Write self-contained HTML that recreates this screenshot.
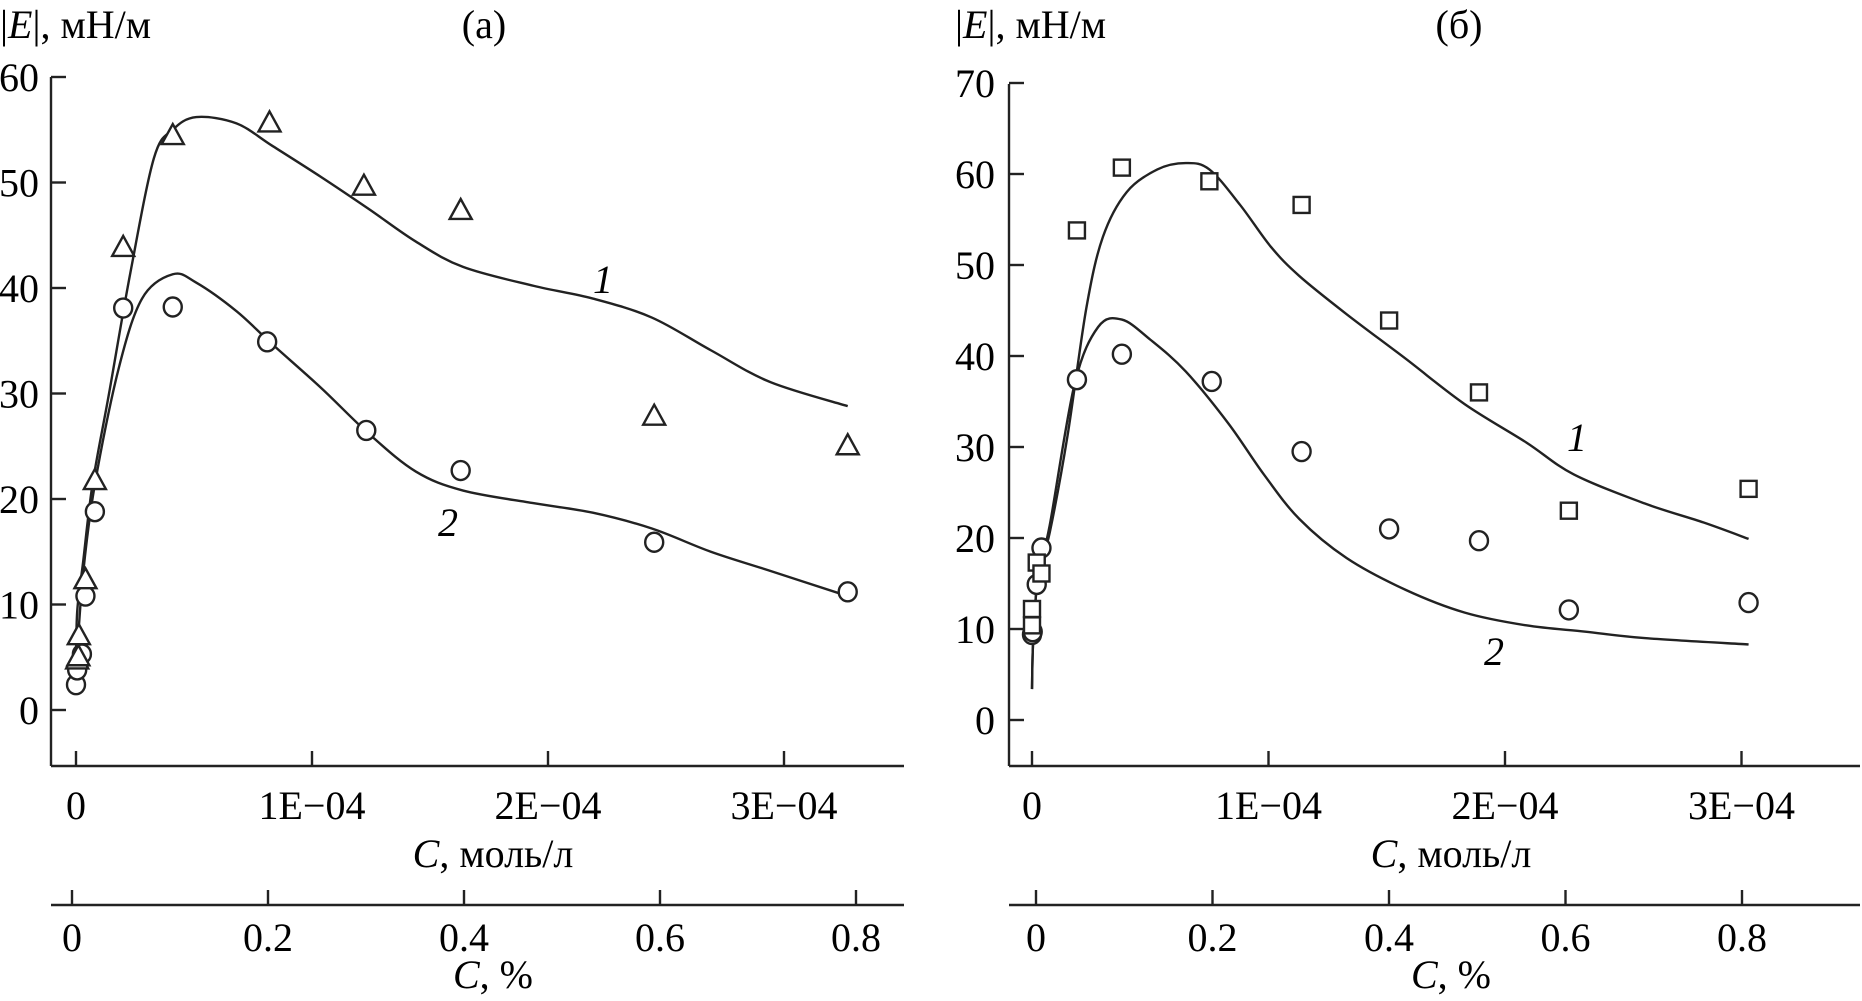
<!DOCTYPE html>
<html><head><meta charset="utf-8"><style>
body{margin:0;background:#fff;}
svg{display:block;font-family:"Liberation Serif",serif;}
</style></head><body>
<svg id="s" width="1862" height="1001" xmlns="http://www.w3.org/2000/svg"></svg>
<script>
// Panel (a) data, x in units of 1E-4 mol/L
const aTriX=[0.005,0.01,0.012,0.04,0.08,0.2,0.41,0.82,1.22,1.63,2.45,3.27];
const aTriY=[4.7,5.0,7.0,12.3,21.7,43.8,54.4,55.6,49.6,47.3,27.8,25.0];
const aCirX=[0,0.005,0.025,0.04,0.08,0.2,0.41,0.81,1.23,1.63,2.45,3.27];
const aCirY=[2.4,3.8,5.3,10.8,18.8,38.1,38.2,34.9,26.5,22.7,15.9,11.2];
const aC1X=[0,0.005,0.03,0.07,0.14,0.23,0.33,0.41,0.51,0.68,0.83,1.04,1.24,1.44,1.64,1.94,2.19,2.44,2.69,2.94,3.27];
const aC1Y=[3.8,9.3,14,21.4,30,41.4,52.3,55,56.2,55.6,53.5,50.5,47.5,44.4,42,40.2,39,37.2,34.1,31.1,28.8];
const aC2X=[0,0.03,0.08,0.18,0.28,0.41,0.51,0.68,0.83,1.04,1.24,1.44,1.64,1.94,2.19,2.44,2.69,2.94,3.27];
const aC2Y=[3.8,12.9,21.4,32.3,39,41.3,40.5,37.8,34.7,30.5,26.2,22.6,20.8,19.6,18.7,17.2,15,13.2,10.8];
// Panel (б) data
const bSqX=[0,0,0.02,0.04,0.19,0.38,0.75,1.14,1.51,1.89,2.27,3.03];
const bSqY=[10.4,12.2,17.3,16.1,53.8,60.7,59.2,56.6,43.9,36,23,25.4];
const bCirX=[0,0.003,0.02,0.04,0.19,0.38,0.76,1.14,1.51,1.89,2.27,3.03];
const bCirY=[9.4,9.7,14.9,18.9,37.4,40.2,37.2,29.5,21,19.7,12.1,12.9];
const bC1X=[0,0.005,0.025,0.075,0.15,0.23,0.3,0.4,0.53,0.65,0.75,0.88,1.01,1.13,1.33,1.58,1.83,2.09,2.29,2.59,2.84,3.03];
const bC1Y=[3.4,8.7,15.7,20.6,31.2,45.3,53.1,58,60.5,61.2,60.5,56.6,52,48.8,44.6,39.7,34.7,30.5,27,23.8,21.7,19.9];
const bC2X=[0,0.005,0.025,0.075,0.18,0.28,0.38,0.5,0.65,0.83,0.98,1.13,1.33,1.58,1.83,2.09,2.34,2.59,3.03];
const bC2Y=[3.4,8.7,15.7,21.4,36.9,43.2,44,41.8,38.3,32.6,27,22.1,17.8,14.3,11.8,10.4,9.7,9,8.3];
const aYTicks=[0,10,20,30,40,50,60];
const bYTicks=[0,10,20,30,40,50,60,70];
const xTicks=[0,1,2,3];
const xTickLabels=["0","1E\u221204","2E\u221204","3E\u221204"];
const pctTicks=[0,0.2,0.4,0.6,0.8];
const pctLabels=["0","0.2","0.4","0.6","0.8"];

const NS="http://www.w3.org/2000/svg";
const svg=document.getElementById('s');
const FS=40;
function mk(tag,attrs,parent,text){const e=document.createElementNS(NS,tag);for(const k in attrs)e.setAttribute(k,attrs[k]);if(text!==undefined)e.textContent=text;(parent||svg).appendChild(e);return e;}
function smooth(pts){let d=`M${pts[0][0]},${pts[0][1]}`;for(let i=0;i<pts.length-1;i++){const p0=pts[i-1]||pts[i],p1=pts[i],p2=pts[i+1],p3=pts[i+2]||p2;const c1=[p1[0]+(p2[0]-p0[0])/6,p1[1]+(p2[1]-p0[1])/6],c2=[p2[0]-(p3[0]-p1[0])/6,p2[1]-(p3[1]-p1[1])/6];d+=` C${c1[0]},${c1[1]} ${c2[0]},${c2[1]} ${p2[0]},${p2[1]}`;}return d;}

function panel(cfg){
  const g=mk('g',{});
  
  
  const X=v=>cfg.x0+v*cfg.xs, Y=v=>cfg.y0-v*cfg.ys, P=v=>cfg.p0+v*cfg.ps;
  const st={stroke:'#222','stroke-width':2.4,fill:'none'};
  let e=mk('line',Object.assign({x1:cfg.ax,y1:cfg.yTop,x2:cfg.ax,y2:cfg.axY},st),g);
  
  e=mk('line',Object.assign({x1:cfg.ax,y1:cfg.axY,x2:cfg.axEnd,y2:cfg.axY},st),g);
  
  e=mk('line',Object.assign({x1:cfg.ax,y1:905,x2:cfg.axEnd,y2:905},st),g);
  
  cfg.yT.forEach(v=>{mk('line',Object.assign({x1:cfg.ax,y1:Y(v),x2:cfg.ax+15,y2:Y(v)},st),g);
    const t=mk('text',{x:cfg.labR,y:Y(v)+14,'text-anchor':'end','font-size':FS},g,String(v));
    });
  xTicks.forEach((v,i)=>{mk('line',Object.assign({x1:X(v),y1:cfg.axY,x2:X(v),y2:cfg.axY-15},st),g);
    const t=mk('text',{x:X(v),y:819,'text-anchor':'middle','font-size':FS},g,xTickLabels[i]);
    });
  pctTicks.forEach((v,i)=>{mk('line',Object.assign({x1:P(v),y1:905,x2:P(v),y2:890},st),g);
    const t=mk('text',{x:P(v),y:951,'text-anchor':'middle','font-size':FS},g,pctLabels[i]);
    });
  let t=mk('text',{x:cfg.xlab,y:867,'text-anchor':'middle','font-size':FS},g);
  mk('tspan',{'font-style':'italic'},t,'C');mk('tspan',{},t,', моль/л');
  
  t=mk('text',{x:cfg.xlab,y:988,'text-anchor':'middle','font-size':FS},g);
  mk('tspan',{'font-style':'italic'},t,'C');mk('tspan',{},t,', %');
  
  t=mk('text',{x:cfg.ylabX,y:38,'font-size':FS},g);
  mk('tspan',{},t,'|');mk('tspan',{'font-style':'italic'},t,'E');mk('tspan',{},t,'|, мН/м');
  
  t=mk('text',{x:cfg.titleX,y:38,'text-anchor':'middle','font-size':FS},g,cfg.title);
  
  cfg.curves.forEach((c,k)=>{const p=mk('path',Object.assign({d:smooth(c[0].map((v,i)=>[X(v),Y(c[1][i])]))},st),g);
    });
  cfg.curveLabels.forEach((l,k)=>{const tt=mk('text',{x:l[0],y:l[1],'font-size':FS,'font-style':'italic','text-anchor':'middle'},g,String(k+1));
    });
  cfg.marks.forEach(m=>{m.x.forEach((v,i)=>{const cx=X(v),cy=Y(m.y[i]);let el;
    if(m.type==='circle')el=mk('ellipse',Object.assign({cx:cx,cy:cy,rx:9,ry:9.5},st,{fill:'#fff'}),g);
    else if(m.type==='tri')el=mk('polygon',Object.assign({points:`${cx},${cy-12} ${cx+11},${cy+8} ${cx-11},${cy+8}`},st,{fill:'#fff'}),g);
    else el=mk('rect',Object.assign({x:cx-8,y:cy-8,width:16,height:16},st,{fill:'#fff'}),g);
    });});
}
panel({name:'panel-a',x0:76,xs:236,y0:710,ys:10.55,p0:72,ps:980,ax:51,axEnd:904,axY:766,yTop:77,labR:39,
  yT:aYTicks,xlab:493,ylabX:0,titleX:484,title:'(а)',
  curves:[[aC1X,aC1Y],[aC2X,aC2Y]],curveLabels:[[603,293],[448,536]],
  marks:[{type:'circle',x:aCirX,y:aCirY,name:'data-point-curve-2'},{type:'tri',x:aTriX,y:aTriY,name:'data-point-curve-1'}]});
panel({name:'panel-b',x0:1032,xs:236.5,y0:720,ys:9.1,p0:1036,ps:882.5,ax:1009,axEnd:1860,axY:766,yTop:84,labR:995,
  yT:bYTicks,xlab:1451,ylabX:955,titleX:1459,title:'(б)',
  curves:[[bC1X,bC1Y],[bC2X,bC2Y]],curveLabels:[[1577,451],[1494,665]],
  marks:[{type:'circle',x:bCirX,y:bCirY,name:'data-point-curve-2'},{type:'square',x:bSqX,y:bSqY,name:'data-point-curve-1'}]});
</script>
</body></html>
